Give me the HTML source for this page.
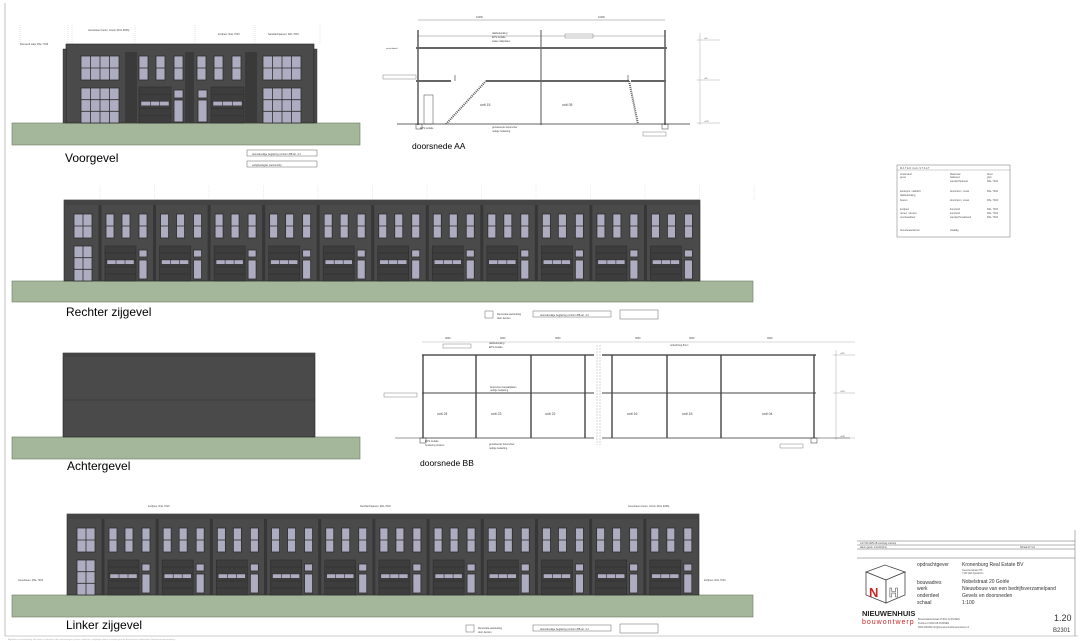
<!DOCTYPE html>
<html><head><meta charset="utf-8"><style>
body{margin:0;background:#fff;width:1080px;height:641px;overflow:hidden;font-family:"Liberation Sans",sans-serif}
svg{display:block}
</style></head><body>
<svg id="s" width="1080" height="641" viewBox="0 0 1080 641" xmlns="http://www.w3.org/2000/svg" font-family="Liberation Sans, sans-serif">
<rect x="0" y="0" width="1080" height="641" fill="#fff"/>
<line x1="5" y1="3" x2="5" y2="636" stroke="#999" stroke-width="0.6"/>
<line x1="5" y1="636" x2="1078" y2="636" stroke="#999" stroke-width="0.6"/>
<g id="g"></g>
<!-- titles -->
<text x="65" y="162" font-size="12">Voorgevel</text>
<text x="66" y="316" font-size="12">Rechter zijgevel</text>
<text x="67" y="470" font-size="12">Achtergevel</text>
<text x="66" y="629" font-size="12">Linker zijgevel</text>
<text x="412" y="149" font-size="8.5">doorsnede AA</text>
<text x="420" y="466" font-size="8.5">doorsnede BB</text>
<!-- legend boxes -->
<g fill="none" stroke="#666" stroke-width="0.5">
<rect x="247" y="150" width="70" height="6"/><rect x="247" y="161" width="70" height="6"/>
<rect x="533" y="311" width="78" height="6"/><rect x="620" y="310" width="38" height="9"/><rect x="485" y="311" width="8" height="7"/>
<rect x="533" y="625" width="78" height="6"/><rect x="620" y="624" width="38" height="9"/><rect x="466" y="625" width="8" height="7"/>
</g>
<g font-size="2.5" fill="#444">
<text x="252" y="155">doorvalveilige beglazing conform BB art. 2.2</text>
<text x="252" y="166">veiligheidsglas stelconstrip</text>
<text x="540" y="316">doorvalveilige beglazing conform BB art. 2.2</text>
<text x="497" y="315">Renovatie-aansluiting</text><text x="497" y="319">door derden</text>
<text x="540" y="630">doorvalveilige beglazing conform BB art. 2.2</text>
<text x="478" y="629">Renovatie-aansluiting</text><text x="478" y="633">door derden</text>
<text x="20" y="45">Zwevend stapr RAL 7016</text>
<text x="88" y="31">Gevelsteen beton, Grnon (RAL 9006)</text>
<text x="218" y="35">kozijnen, RAL 7016</text>
<text x="268" y="35">Sandwichpaneel, RAL 7016</text>
<text x="148" y="507">kozijnen, RAL 7016</text>
<text x="360" y="507">Sandwichpaneel, RAL 7016</text>
<text x="628" y="507">Gevelsteen beton, Grnon (RAL 9006)</text>
<text x="18" y="581">Gevelsteen, RAL 7016</text>
<text x="704" y="581">kozijnen, RAL 7016</text>
</g>
<!-- materiaalstaat -->
<rect x="897" y="165" width="113" height="72" fill="#fff" stroke="#888" stroke-width="0.6"/>
<line x1="897" y1="170" x2="1010" y2="170" stroke="#888" stroke-width="0.4"/>
<g font-size="2.5" fill="#555">
<text x="900" y="169">M A T E R I A A L S T A A T</text>
<text x="900" y="175">Onderdeel</text><text x="950" y="175">Materiaal</text><text x="987" y="175">Kleur</text>
<text x="900" y="178">gevel</text><text x="950" y="178">baksteen</text><text x="987" y="178">grijs</text>
<text x="950" y="182">sandwichpaneel</text><text x="987" y="182">RAL 7016</text>
<text x="900" y="192">kelderpui / daklicht</text><text x="950" y="192">aluminium, visuel</text><text x="987" y="192">RAL 7016</text>
<text x="900" y="196">dakbedekking</text>
<text x="900" y="201">boeien</text><text x="950" y="201">aluminium, visuel</text><text x="987" y="201">RAL 7016</text>
<text x="900" y="210">kozijnen</text><text x="950" y="210">kunststof</text><text x="987" y="210">RAL 7016</text>
<text x="900" y="214">ramen / deuren</text><text x="950" y="214">kunststof</text><text x="987" y="214">RAL 7016</text>
<text x="900" y="218">overheaddeur</text><text x="950" y="218">sandwichmaatwerk</text><text x="987" y="218">RAL 7016</text>
<text x="900" y="231">hemelwaterafvoer</text><text x="950" y="231">staaldig</text>
</g>
<!-- title block -->
<g stroke="#666" stroke-width="0.5" fill="none">
<line x1="857" y1="541" x2="1075" y2="541"/><line x1="857" y1="545" x2="1075" y2="545"/><line x1="857" y1="549" x2="1075" y2="549"/>
<line x1="857" y1="558" x2="1075" y2="558"/>
<line x1="1075" y1="530" x2="1075" y2="636"/>
</g>
<g font-size="2.3" fill="#444"><text x="860" y="544">A  27-06-2025  AB  voorlopig ontwerp</text><text x="860" y="548">datum  getek.  omschrijving</text><text x="1020" y="548">Schaal A0 / A1</text></g>
<g font-size="5" fill="#333">
<text x="917" y="566">opdrachtgever</text><text x="962" y="566">Kronenburg Real Estate BV</text>
<text x="917" y="584">bouwadres</text><text x="962" y="583">Nobelstraat 20 Goirle</text>
<text x="917" y="590">werk</text><text x="962" y="590">Nieuwbouw van een bedrijfsverzamelpand</text>
<text x="917" y="597">onderdeel</text><text x="962" y="597">Gevels en doorsneden</text>
<text x="917" y="604">schaal</text><text x="962" y="604">1:100</text>
</g>
<g font-size="2.4" fill="#555"><text x="962" y="571">Gevelrenstraat 276</text><text x="962" y="574">7120 000 Apeldoorn</text>
<text x="918" y="620">Bouwmaatvleistraat 27/201 JL RUISEN</text><text x="918" y="624">Postbus 0 0000 AB RIJSSEN</text><text x="918" y="628">0000 000000 info@nieuwenhuisbouwontwerp.nl</text></g>
<text x="1054" y="621" font-size="9" fill="#333">1.20</text>
<text x="1053" y="632" font-size="6" fill="#333">B2301</text>
<!-- logo cube -->
<polygon points="866,572 885,565 905,572 886,580" fill="#fff" stroke="#444" stroke-width="0.8"/>
<polygon points="866,572 886,580 886,603 866,595" fill="#fff" stroke="#444" stroke-width="0.8"/>
<polygon points="886,580 905,572 905,595 886,603" fill="#fff" stroke="#444" stroke-width="0.8"/>
<text x="869" y="597" font-size="13" font-weight="bold" fill="#c62828">N</text>
<text x="889" y="597" font-size="13" font-weight="bold" fill="#fff" stroke="#555" stroke-width="0.6">H</text>
<text x="862" y="616" font-size="7.5" font-weight="bold" fill="#222">NIEUWENHUIS</text>
<text x="862" y="624" font-size="7" fill="#c62828" letter-spacing="1">bouwontwerp</text>
<text x="8" y="640" font-size="2" fill="#aaa">Afgeleiden en maatvoering: alle maten in millimeters. Alle maatvoering ter plaatse controleren; afwijkingen dienen te worden gemeld. Auteursrecht voorbehouden Nieuwenhuis bouwontwerp.</text>
</svg>
<script>
const NS="http://www.w3.org/2000/svg",G=document.getElementById('g');
function el(t,a,p){const e=document.createElementNS(NS,t);for(const k in a)e.setAttribute(k,a[k]);(p||G).appendChild(e);return e;}
function R(x,y,w,h,f,s,sw){return el('rect',{x,y,width:w,height:h,fill:f||'none',stroke:s||'none','stroke-width':sw||0.5});}
function L(x1,y1,x2,y2,s,sw,d){const a={x1,y1,x2,y2,stroke:s||'#444','stroke-width':sw||0.5};if(d)a['stroke-dasharray']=d;return el('line',a);}
function T(x,y,t,fs){const e=el('text',{x,y,'font-size':fs||2.5,fill:'#444'});e.textContent=t;return e;}
const DK='#4a4a4a',WN='#aeacc0',FR='#2e2e2e';
function win(x,y,w,h,cols,rows){R(x,y,w,h,WN,FR,0.8);for(let i=1;i<cols;i++)L(x+w*i/cols,y,x+w*i/cols,y+h,FR,0.8);for(let j=1;j<rows;j++)L(x,y+h*j/rows,x+w,y+h*j/rows,FR,0.8);}
function garage(x,y,w,h){R(x,y,w,h,'#3d3d3d',FR,0.6);for(let j=1;j<5;j++)L(x,y+h*j/5,x+w,y+h*j/5,'#2a2a2a',0.4);R(x+2,y+h*0.4,w-4,h*0.12,WN,FR,0.4);for(let i=1;i<3;i++)L(x+2+(w-4)*i/3,y+h*0.4,x+2+(w-4)*i/3,y+h*0.52,FR,0.6);}
function ground(x,y,w,h){R(x,y,w,h,'#a5b79a','#6b7a62',0.6);}
// Voorgevel
ground(12,123,348,22);
R(66,44,248,79,DK,'#222',0.6);R(63,49,3,74,DK,'#222',0.4);R(314,49,3,74,DK,'#222',0.4);
[[127,135],[187,192],[247,255]].forEach(p=>{R(p[0]-2,52,p[1]-p[0]+4,71,'#3a3a3a');});
win(81,56,38,24,4,2);win(81,88,38,35,4,3);
win(263,56,38,24,4,2);win(263,88,38,35,4,3);
[[139,188],[197,246]].forEach((u,k)=>{const a=u[0],b=u[1];
 if(k==0){win(a,56,9,24,1,2);win(a+17,56,9,24,1,2);win(a+35,56,9,24,1,2);garage(a,87,32,36);win(a+35,90,9,8,1,1);win(a+35,100,9,22,1,1);}
 else{win(a,56,9,24,1,2);win(a+17,56,9,24,1,2);win(a+35,56,9,24,1,2);garage(a+14,87,33,36);win(a+1,90,9,8,1,1);win(a+1,100,9,22,1,1);}});
[15,63,67,130,190,250,315].forEach(x=>L(x+5,25,x+5,44,'#999',0.3,'1,1'));
// long facades
function longFac(x0,y0,x1,y1,units,mirror){
 R(x0,y0,x1-x0,y1-y0,DK,'#222',0.6);
 R(x0,y0,x1-x0,5,'#444');
 // end bay
 const eb=36;win(x0+10,y0+14,18,24,2,2);win(x0+10,y0+46,18,y1-y0-46,2,3);
 const uw=(x1-x0-eb)/units;
 for(let i=0;i<units;i++){const a=x0+eb+i*uw;
  R(a-1.5,y0+5,3,y1-y0-5,'#363636');
  win(a+6,y0+14,8,24,1,2);win(a+22,y0+14,8,24,1,2);win(a+39,y0+14,8,24,1,2);
  garage(a+5,y0+46,31,y1-y0-46);win(a+39,y0+50,8,7,1,1);win(a+39,y0+60,8,y1-y0-62,1,1);
 }
}
ground(12,281,741,21);longFac(64,200,700,281,11);
ground(12,595,741,22);longFac(67,514,699,595,11);
for(let i=0;i<13;i++){L(100+i*54.5,185,100+i*54.5,200,'#bbb',0.3,'1,1');}
// achtergevel
ground(12,437,348,22);R(63,353,252,84,DK,'#222',0.6);L(63,400,315,400,'#333',0.5);R(63,353,252,4,'#444');
// section AA
function sec(){}
L(418,36,665,36,'#666',0.4);L(418,20,665,20,'#666',0.4);T(476,18,'11900');T(598,18,'11900');
L(418,30,418,125,'#333',1.2);L(541,30,541,125,'#555',1);L(665,30,665,125,'#333',1.2);
R(416,47,251,2,'#666');R(416,80,35,2,'#666');R(486,80,143,2,'#666');R(631,80,35,2,'#666');
L(455,75,455,81,'#333',0.6);L(628,75,628,81,'#333',0.6);
L(397,124,690,124,'#333',0.8);R(416,124,6,5,'none','#333',0.5);R(662,124,6,5,'none','#333',0.5);
el('polyline',{points:'446,124 486,81',stroke:'#555','stroke-width':2,fill:'none','stroke-dasharray':'1,1'});
el('polyline',{points:'629,81 638,124',stroke:'#555','stroke-width':2,fill:'none','stroke-dasharray':'1,1'});
R(424,95,9,29,'none','#444',0.5);
T(480,106,'unit 15',3.5);T(562,106,'unit 05',3.5);
R(383,75,33,4,'none','#666',0.4);R(565,34,28,4,'none','#666',0.4);R(643,132,23,4,'none','#666',0.4);
T(386,49,'aansluitdetail',2);T(492,34,'dakbedekking');T(492,38,'EPS isolatie');T(492,42,'stalen dakplaten');
T(492,128,'geïsoleerde betonvloer');T(492,132,'nuttige belasting');T(420,129,'EPS isolatie');
L(700,33,700,125,'#777',0.3);[40,80,123].forEach(y=>{L(697,y,720,y,'#777',0.3);T(704,y-1,'+'+y,2);});
// section BB
L(422,342,855,342,'#888',0.3);T(445,339,'3000');T(500,339,'3000');T(555,339,'3000');T(635,339,'3000');T(689,339,'3000');T(767,339,'3000');
L(422,355,594,355,'#555',1.5);L(602,355,816,355,'#555',1.5);
L(422,393,594,393,'#444',1);L(602,393,816,393,'#444',1);
L(422,438,594,438,'#333',0.8);L(602,438,816,438,'#333',0.8);L(395,438,422,438,'#333',0.6);L(816,438,850,438,'#333',0.6);
[423,476,531,585].forEach(x=>L(x,355,x,438,'#444',1.4));
[612,667,721,814].forEach(x=>L(x,355,x,438,'#444',1.4));
L(597,345,597,445,'#777',0.3,'2,1');L(600,345,600,445,'#777',0.3,'2,1');
R(420,438,6,5,'none','#333',0.5);R(811,438,6,5,'none','#333',0.5);
T(437,415,'unit 24',3.5);T(491,415,'unit 23',3.5);T(545,415,'unit 22',3.5);T(627,415,'unit 16',3.5);T(682,415,'unit 15',3.5);T(762,415,'unit 04',3.5);
R(443,344,28,4,'none','#666',0.4);R(384,393,33,4,'none','#666',0.4);R(780,444,23,4,'none','#666',0.4);
T(489,344,'dakbedekking');T(489,348,'EPS isolatie');T(490,388,'betonvloer kanaalplaten');T(490,391,'nuttige belasting');
T(489,445,'geïsoleerde betonvloer');T(489,449,'nuttige belasting');T(425,442,'EPS isolatie');T(425,446,'fundering stroken');T(670,346,'ontluchting 8mm');
L(836,350,836,440,'#777',0.3);[355,393,438].forEach(y=>{L(833,y,855,y,'#777',0.3);T(840,y-1,'+'+y,2);});
</script>
</body></html>
